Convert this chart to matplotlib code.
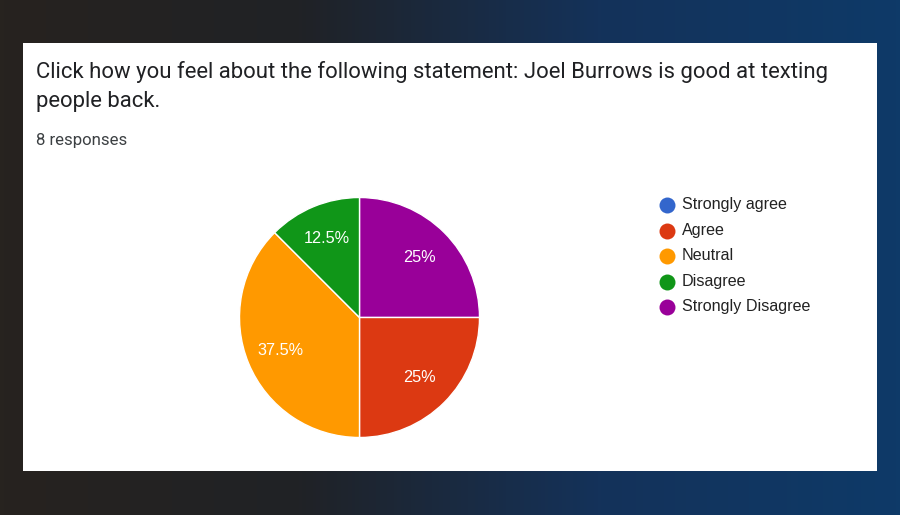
import matplotlib
matplotlib.use("Agg")
import matplotlib.pyplot as plt
import numpy as np
from matplotlib.colors import LinearSegmentedColormap

# Survey data
categories = ["Strongly agree", "Agree", "Neutral", "Disagree", "Strongly Disagree"]
counts = [0, 2, 3, 1, 2]
colors = ["#3366cc", "#dc3912", "#ff9900", "#109618", "#990099"]
draw_order = [4, 1, 2, 3]  # clockwise from 12 o'clock

title = "Click how you feel about the following statement: Joel Burrows is good at texting\npeople back."
subtitle = "8 responses"

W, H = 900, 515
fig = plt.figure(figsize=(W / 100, H / 100), dpi=100)

# dark gradient background
bg = fig.add_axes([0, 0, 1, 1])
grad = np.linspace(0, 1, 256).reshape(1, -1)
cmap = LinearSegmentedColormap.from_list("bg", ["#27231f", "#202226", "#14325a", "#0e3a68"])
bg.imshow(grad, aspect="auto", cmap=cmap, extent=[0, W, H, 0])
bg.set_xlim(0, W)
bg.set_ylim(H, 0)
bg.axis("off")

# white card
bg.add_patch(plt.Rectangle((23, 43), 854, 428, facecolor="white", edgecolor="none"))

bg.text(36, 72, title.split("\n")[0], fontsize=15.9, family="Roboto", color="#202124", va="center")
bg.text(36, 101, title.split("\n")[1], fontsize=15.9, family="Roboto", color="#202124", va="center")
bg.text(36, 141, subtitle, fontsize=12.1, family="Roboto", color="#3c4043", va="center")

# legend
for i, (cat, col) in enumerate(zip(categories, colors)):
    y = 205 + i * 25.5
    bg.plot(667, y, "o", ms=11.5, color=col, mec="none")
    bg.text(682, y, cat, fontsize=11.6, family="Liberation Sans", color="#222222", va="center")

# pie
cx, cy, r = 359.5, 317.5, 120
ax = fig.add_axes([(cx - r) / W, (H - cy - r) / H, 2 * r / W, 2 * r / H])
vals = [counts[i] for i in draw_order]
cols = [colors[i] for i in draw_order]
wedges, texts, autotexts = ax.pie(
    vals, colors=cols, startangle=90, counterclock=False,
    autopct=lambda p: f"{p:g}%", pctdistance=0.71,
    wedgeprops=dict(edgecolor="white", linewidth=1),
    textprops=dict(color="white", fontsize=11.7, family="Liberation Sans"),
)
ax.set_xlim(-1, 1)
ax.set_ylim(-1, 1)
ax.set_aspect("equal")

fig.savefig("out.png", dpi=100)
